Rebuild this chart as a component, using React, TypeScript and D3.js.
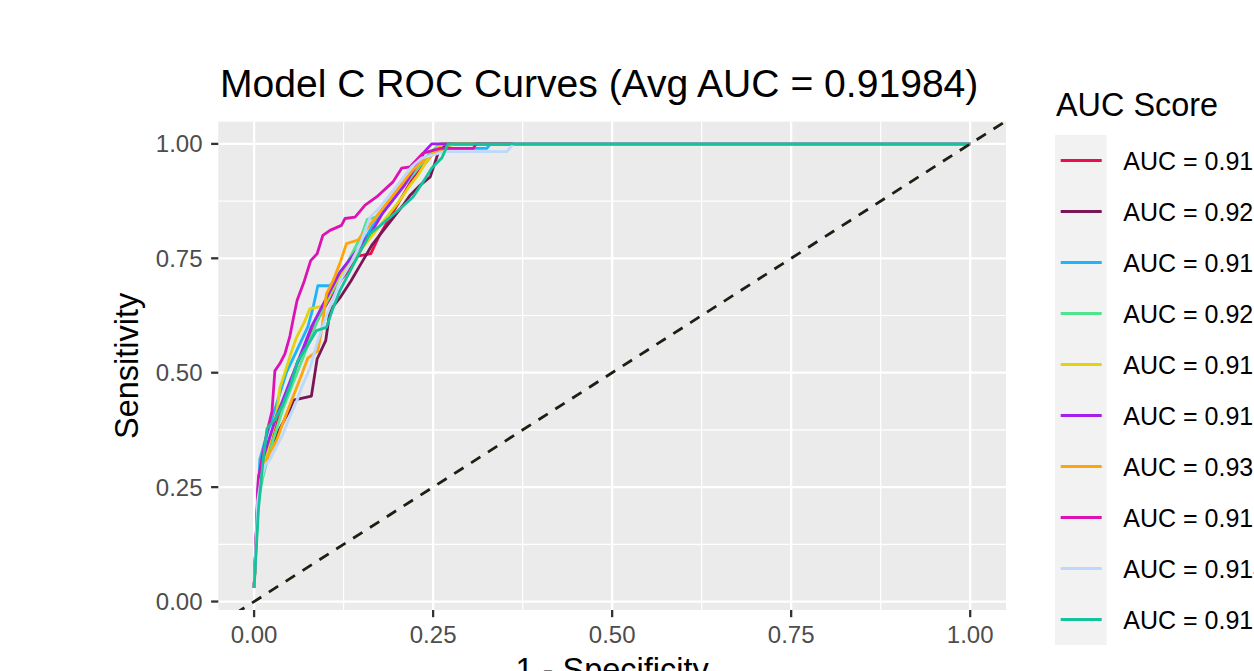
import React from "react";
import * as d3 from "d3";

// ROC points per fold: [1 - specificity, sensitivity]
const foldA = [[0,0.03],[0.006,0.25],[0.012,0.3],[0.02,0.34],[0.03,0.38],[0.04,0.43],[0.05,0.47],[0.06,0.52],[0.075,0.57],[0.09,0.62],[0.105,0.66],[0.12,0.7],[0.135,0.73],[0.145,0.755],[0.163,0.76],[0.175,0.8],[0.19,0.84],[0.205,0.88],[0.22,0.92],[0.235,0.95],[0.25,0.98],[0.262,1],[1,1]];
const foldB = [[0,0.03],[0.006,0.26],[0.012,0.3],[0.02,0.33],[0.03,0.36],[0.04,0.39],[0.05,0.42],[0.055,0.44],[0.08,0.449],[0.088,0.53],[0.1,0.57],[0.106,0.636],[0.12,0.664],[0.135,0.7],[0.15,0.74],[0.165,0.78],[0.18,0.81],[0.195,0.84],[0.208,0.866],[0.218,0.888],[0.232,0.91],[0.246,0.928],[0.257,0.98],[0.269,1],[1,1]];
const foldC = [[0,0.03],[0.008,0.31],[0.015,0.35],[0.025,0.4],[0.035,0.45],[0.045,0.5],[0.06,0.55],[0.075,0.6],[0.082,0.64],[0.089,0.69],[0.106,0.69],[0.12,0.72],[0.135,0.75],[0.15,0.78],[0.165,0.82],[0.18,0.85],[0.195,0.88],[0.21,0.91],[0.225,0.94],[0.24,0.97],[0.26,0.99],[0.325,0.99],[0.33,1],[1,1]];
const foldD = [[0,0.03],[0.006,0.22],[0.012,0.27],[0.02,0.32],[0.03,0.37],[0.04,0.42],[0.05,0.46],[0.06,0.5],[0.07,0.54],[0.08,0.58],[0.09,0.62],[0.1,0.65],[0.11,0.68],[0.12,0.71],[0.13,0.74],[0.14,0.77],[0.15,0.8],[0.158,0.835],[0.17,0.84],[0.185,0.86],[0.2,0.89],[0.215,0.92],[0.23,0.95],[0.245,0.98],[0.26,1],[1,1]];
const foldE = [[0,0.03],[0.006,0.24],[0.012,0.29],[0.02,0.34],[0.027,0.38],[0.032,0.416],[0.036,0.467],[0.045,0.51],[0.052,0.545],[0.059,0.576],[0.07,0.61],[0.078,0.64],[0.095,0.645],[0.105,0.67],[0.115,0.7],[0.13,0.73],[0.145,0.76],[0.16,0.79],[0.175,0.82],[0.19,0.85],[0.205,0.88],[0.218,0.91],[0.228,0.93],[0.24,0.96],[0.25,0.98],[0.262,1],[1,1]];
const foldF = [[0,0.03],[0.006,0.27],[0.012,0.31],[0.02,0.35],[0.03,0.4],[0.04,0.44],[0.05,0.48],[0.06,0.52],[0.07,0.56],[0.08,0.6],[0.09,0.63],[0.1,0.66],[0.11,0.69],[0.12,0.72],[0.135,0.75],[0.15,0.78],[0.165,0.81],[0.18,0.85],[0.195,0.88],[0.21,0.91],[0.222,0.94],[0.232,0.965],[0.238,0.983],[0.248,1],[1,1]];
const foldG = [[0,0.03],[0.006,0.24],[0.012,0.29],[0.02,0.32],[0.031,0.35],[0.036,0.372],[0.045,0.41],[0.055,0.45],[0.065,0.49],[0.075,0.532],[0.089,0.548],[0.095,0.6],[0.101,0.672],[0.11,0.7],[0.12,0.74],[0.129,0.782],[0.145,0.79],[0.16,0.82],[0.175,0.85],[0.19,0.88],[0.205,0.91],[0.22,0.94],[0.24,0.97],[0.26,0.985],[0.278,1],[1,1]];
const foldH = [[0,0.03],[0.006,0.27],[0.012,0.32],[0.018,0.37],[0.025,0.416],[0.027,0.46],[0.029,0.504],[0.036,0.52],[0.043,0.541],[0.05,0.58],[0.055,0.62],[0.06,0.658],[0.07,0.7],[0.079,0.745],[0.088,0.76],[0.096,0.8],[0.106,0.811],[0.122,0.822],[0.127,0.837],[0.141,0.84],[0.155,0.866],[0.171,0.884],[0.194,0.917],[0.206,0.947],[0.218,0.95],[0.236,0.98],[0.26,0.99],[0.306,0.99],[0.31,1],[1,1]];
const foldI = [[0,0.03],[0.005,0.22],[0.01,0.27],[0.016,0.3],[0.022,0.31],[0.03,0.335],[0.04,0.365],[0.052,0.412],[0.06,0.44],[0.066,0.467],[0.078,0.51],[0.089,0.57],[0.1,0.62],[0.11,0.66],[0.12,0.7],[0.135,0.74],[0.148,0.78],[0.155,0.81],[0.162,0.84],[0.175,0.86],[0.19,0.89],[0.205,0.92],[0.22,0.95],[0.234,0.969],[0.266,0.983],[0.353,0.983],[0.362,1],[1,1]];
const foldJ = [[0,0.03],[0.006,0.2],[0.012,0.3],[0.018,0.378],[0.03,0.4],[0.04,0.43],[0.05,0.47],[0.061,0.526],[0.075,0.56],[0.087,0.592],[0.101,0.599],[0.11,0.64],[0.12,0.68],[0.13,0.71],[0.14,0.74],[0.15,0.77],[0.162,0.804],[0.175,0.82],[0.19,0.84],[0.205,0.86],[0.222,0.884],[0.236,0.917],[0.248,0.947],[0.262,0.969],[0.271,1],[1,1]];

const folds = [foldA, foldB, foldC, foldD, foldE, foldF, foldG, foldH, foldI, foldJ];
const aucScores = [0.916, 0.925, 0.915, 0.922, 0.917, 0.916, 0.931, 0.919, 0.914, 0.918];
const foldColors = ["#EC0C50", "#7A1656", "#1CB4FC", "#4FE48E", "#E4D20C", "#A41EF0", "#FFA50C", "#DC12B4", "#BCD8FC", "#14C29C"];
const xTicks = [0, 0.25, 0.5, 0.75, 1];
const yTicks = [0, 0.25, 0.5, 0.75, 1];
const avgAuc = 0.91984;

const W = 1254;
const H = 671;
const panel = { left: 218.3, right: 1006, top: 121.7, bottom: 610 };
const font = "'Liberation Sans', Arial, Helvetica, sans-serif";

export default function App() {
  const x = d3.scaleLinear().domain([-0.05, 1.05]).range([panel.left, panel.right]);
  // y data spans 0.03..1, ggplot adds 5% on either side
  const y = d3.scaleLinear().domain([0.03 - 0.0485, 1.0485]).range([panel.bottom, panel.top]);
  const line = d3.line<number[]>().x((d) => x(d[0])).y((d) => y(d[1]));

  const minor = (t: number[]) => t.slice(0, -1).map((v, i) => (v + t[i + 1]) / 2);
  const legendTop = 135;
  const keyH = 51;

  return (
    <div style={{ position: "absolute", left: 0, top: 0 }}>
      <svg width={W} height={H} style={{ display: "block", background: "#fff" }} fontFamily={font}>
        <defs>
          <clipPath id="panel-clip">
            <rect x={panel.left} y={panel.top} width={panel.right - panel.left} height={panel.bottom - panel.top} />
          </clipPath>
        </defs>
        <rect x={panel.left} y={panel.top} width={panel.right - panel.left} height={panel.bottom - panel.top} fill="#EBEBEB" />
        {/* grid */}
        {minor(xTicks).map((t) => (
          <line key={"mx" + t} x1={x(t)} x2={x(t)} y1={panel.top} y2={panel.bottom} stroke="#fff" strokeWidth={1.2} />
        ))}
        {minor(yTicks).map((t) => (
          <line key={"my" + t} x1={panel.left} x2={panel.right} y1={y(t)} y2={y(t)} stroke="#fff" strokeWidth={1.2} />
        ))}
        {xTicks.map((t) => (
          <line key={"gx" + t} x1={x(t)} x2={x(t)} y1={panel.top} y2={panel.bottom} stroke="#fff" strokeWidth={2.3} />
        ))}
        {yTicks.map((t) => (
          <line key={"gy" + t} x1={panel.left} x2={panel.right} y1={y(t)} y2={y(t)} stroke="#fff" strokeWidth={2.3} />
        ))}
        <g clipPath="url(#panel-clip)">
          {folds.map((f, i) => (
            <path key={i} d={line(f) || ""} fill="none" stroke={foldColors[i]} strokeWidth={2.8} strokeLinejoin="round" />
          ))}
          <line x1={x(-0.05)} y1={y(-0.05)} x2={x(1.05)} y2={y(1.05)} stroke="#1E1E14" strokeWidth={2.8} strokeDasharray="11 9" />
        </g>
        {/* axes */}
        {xTicks.map((t) => (
          <g key={"tx" + t}>
            <line x1={x(t)} x2={x(t)} y1={panel.bottom} y2={panel.bottom + 7.2} stroke="#333" strokeWidth={2.3} />
            <text x={x(t)} y={643} textAnchor="middle" fontSize={24} fill="#4D4D4D">{t.toFixed(2)}</text>
          </g>
        ))}
        {yTicks.map((t) => (
          <g key={"ty" + t}>
            <line x1={panel.left - 7.2} x2={panel.left} y1={y(t)} y2={y(t)} stroke="#333" strokeWidth={2.3} />
            <text x={202.5} y={y(t) + 8.6} textAnchor="end" fontSize={24} fill="#4D4D4D">{t.toFixed(2)}</text>
          </g>
        ))}
        <text x={(panel.left + panel.right) / 2} y={681} textAnchor="middle" fontSize={32.5} fill="#000">1 - Specificity</text>
        <text transform={`translate(137.5,${(panel.top + panel.bottom) / 2}) rotate(-90)`} textAnchor="middle" fontSize={32.5} fill="#000">Sensitivity</text>
        <text x={220} y={96.5} fontSize={39.1} fill="#000">{`Model C ROC Curves (Avg AUC = ${avgAuc})`}</text>
        {/* legend */}
        <text x={1056} y={116} fontSize={32.4} fill="#000">AUC Score</text>
        <rect x={1055} y={legendTop} width={51.7} height={keyH * folds.length} fill="#F2F2F2" />
        {aucScores.map((a, i) => {
          const cy = legendTop + keyH * i + keyH / 2;
          return (
            <g key={"lg" + i}>
              <line x1={1060.7} x2={1101.7} y1={cy} y2={cy} stroke={foldColors[i]} strokeWidth={2.8} />
              <text x={1123.3} y={cy + 9} fontSize={25} fill="#000">{`AUC = ${a.toFixed(3)}`}</text>
            </g>
          );
        })}
      </svg>
    </div>
  );
}
